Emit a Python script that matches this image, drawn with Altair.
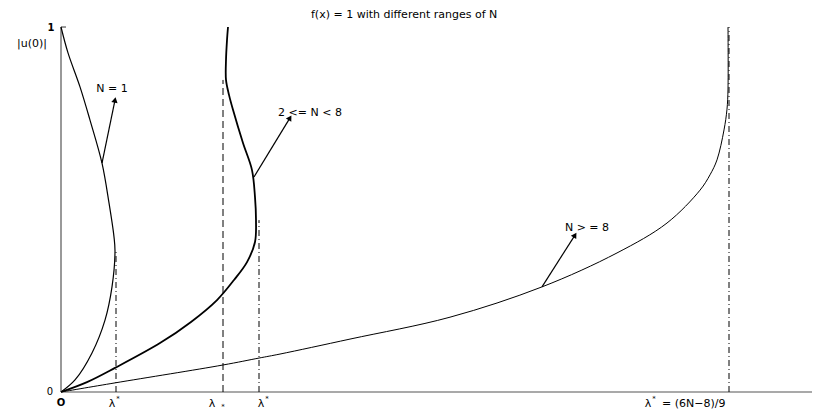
import altair as alt
import pandas as pd

# ---- data (lambda, |u(0)|) ----
n1_lam = [0.0, 0.07, 0.19, 0.29, 0.41, 0.48, 0.53, 0.54, 0.51, 0.44, 0.31, 0.14, 0.0]
n1_u   = [1.0, 0.929, 0.836, 0.745, 0.627, 0.518, 0.425, 0.385, 0.288, 0.197, 0.107, 0.033, 0.0]

n2_lam = [1.67, 1.66, 1.65, 1.65, 1.68, 1.72, 1.82, 1.91, 1.94, 1.95, 1.94, 1.86, 1.73, 1.56, 1.30, 0.99, 0.54, 0.26, 0.0]
n2_u   = [1.0, 0.964, 0.910, 0.855, 0.814, 0.773, 0.682, 0.608, 0.534, 0.471, 0.411, 0.356, 0.307, 0.252, 0.192, 0.134, 0.066, 0.027, 0.0]

n8_lam = [0.0, 0.54, 1.62, 1.98, 2.19, 2.89, 3.89, 4.81, 5.56, 6.06, 6.39, 6.49, 6.56, 6.63, 6.66, 6.67, 6.67]
n8_u   = [0.0, 0.025, 0.074, 0.093, 0.104, 0.145, 0.205, 0.288, 0.381, 0.463, 0.553, 0.595, 0.636, 0.718, 0.775, 0.830, 1.0]

# vertical reference lines: x, top, style
vl_x    = [0.55, 1.62, 1.98, 6.68]
vl_top  = [0.385, 0.855, 0.471, 1.0]
vl_dash = ["dashdot", "dash", "dashdot", "dashdot"]

# arrows: tail -> head, angle (deg, clockwise from up)
ar_x0 = [0.41, 1.93, 4.81]
ar_y0 = [0.627, 0.589, 0.288]
ar_x1 = [0.54, 2.29, 5.14]
ar_y1 = [0.800, 0.751, 0.430]
ar_ang = [12, 31, 32]

# text labels
lb_text  = ["f(x) = 1 with different ranges of N", "|u(0)|", "1", "0", "O",
            "N = 1", "2 <= N < 8", "N > = 8",
            "λ", "*", "λ", "*", "λ", "*", "λ", "*", "= (6N−8)/9"]
lb_x     = [2.50, -0.14, -0.10, -0.11, 0.0,
            0.51, 2.49, 5.26,
            0.51, 0.57, 1.51, 1.62, 2.00, 2.06, 5.87, 5.93, 6.01]
lb_y     = [1.033, 0.953, 0.997, 0.0, -0.030,
            0.830, 0.764, 0.449,
            -0.033, -0.019, -0.033, -0.041, -0.033, -0.019, -0.033, -0.019, -0.033]
lb_size  = [11, 11, 10, 10, 10,
            11, 11, 11,
            11, 7, 11, 7, 11, 7, 11, 7, 11]
lb_align = ["left", "right", "center", "center", "center",
            "center", "center", "center",
            "center", "center", "center", "center", "center", "center", "center", "center", "left"]
lb_weight = ["normal", "normal", "bold", "normal", "bold",
             "normal", "normal", "normal",
             "normal", "normal", "normal", "normal", "normal", "normal", "normal", "normal", "normal"]

# ---- scales ----
xs = alt.Scale(domain=[-0.53, 7.51], nice=False, zero=False)
ys = alt.Scale(domain=[-0.0493, 1.0521], nice=False, zero=False)
X = lambda f: alt.X(f, type="quantitative", scale=xs, axis=None)
Y = lambda f: alt.Y(f, type="quantitative", scale=ys, axis=None)


def curve(lam, u, width):
    df = pd.DataFrame({"lam": lam, "u": u, "i": range(len(lam))})
    return alt.Chart(df).mark_line(color="black", strokeWidth=width, interpolate="catmull-rom").encode(
        x=X("lam"), y=Y("u"), order="i:Q")


axes_df = pd.DataFrame({"x": [0, 0, 0], "y": [0, 0, 1.0], "x2": [7.51, 0, 0.05], "y2": [0, 1.0, 1.0]})
axes = alt.Chart(axes_df).mark_rule(color="#555555", strokeWidth=1.2).encode(
    x=X("x"), y=Y("y"), x2="x2:Q", y2="y2:Q")

layers = [axes]

vdf = pd.DataFrame({"x": vl_x, "top": vl_top, "dash": vl_dash, "zero": [0.0] * len(vl_x)})
layers.append(alt.Chart(vdf[vdf.dash == "dash"]).mark_rule(color="black", strokeWidth=1, strokeDash=[7, 4]).encode(
    x=X("x"), y=Y("zero"), y2="top:Q"))
layers.append(alt.Chart(vdf[vdf.dash == "dashdot"]).mark_rule(color="black", strokeWidth=1, strokeDash=[6, 3, 1, 3]).encode(
    x=X("x"), y=Y("zero"), y2="top:Q"))

layers.append(curve(n1_lam, n1_u, 1.2))
layers.append(curve(n2_lam, n2_u, 1.8))
layers.append(curve(n8_lam, n8_u, 1.0))

adf = pd.DataFrame({"x0": ar_x0, "y0": ar_y0, "x1": ar_x1, "y1": ar_y1, "ang": ar_ang})
layers.append(alt.Chart(adf).mark_rule(color="black", strokeWidth=1.2).encode(
    x=X("x0"), y=Y("y0"), x2="x1:Q", y2="y1:Q"))
layers.append(alt.Chart(adf).mark_point(shape="triangle-up", filled=True, color="black", size=40, opacity=1).encode(
    x=X("x1"), y=Y("y1"), angle=alt.Angle("ang:Q", scale=None)))

ldf = pd.DataFrame({"t": lb_text, "x": lb_x, "y": lb_y, "s": lb_size, "a": lb_align, "w": lb_weight})
for (a, s, w), g in ldf.groupby(["a", "s", "w"]):
    layers.append(alt.Chart(g).mark_text(align=a, baseline="middle", fontSize=int(s), fontWeight=w,
                                         font="DejaVu Sans", color="black").encode(
        x=X("x"), y=Y("y"), text="t:N"))

chart = alt.layer(*layers).properties(
    width=804, height=402, padding=0, autosize=alt.AutoSizeParams(type="none")
).configure_view(strokeWidth=0)

chart.save("out.html", embed_options={"renderer": "svg", "actions": False})
